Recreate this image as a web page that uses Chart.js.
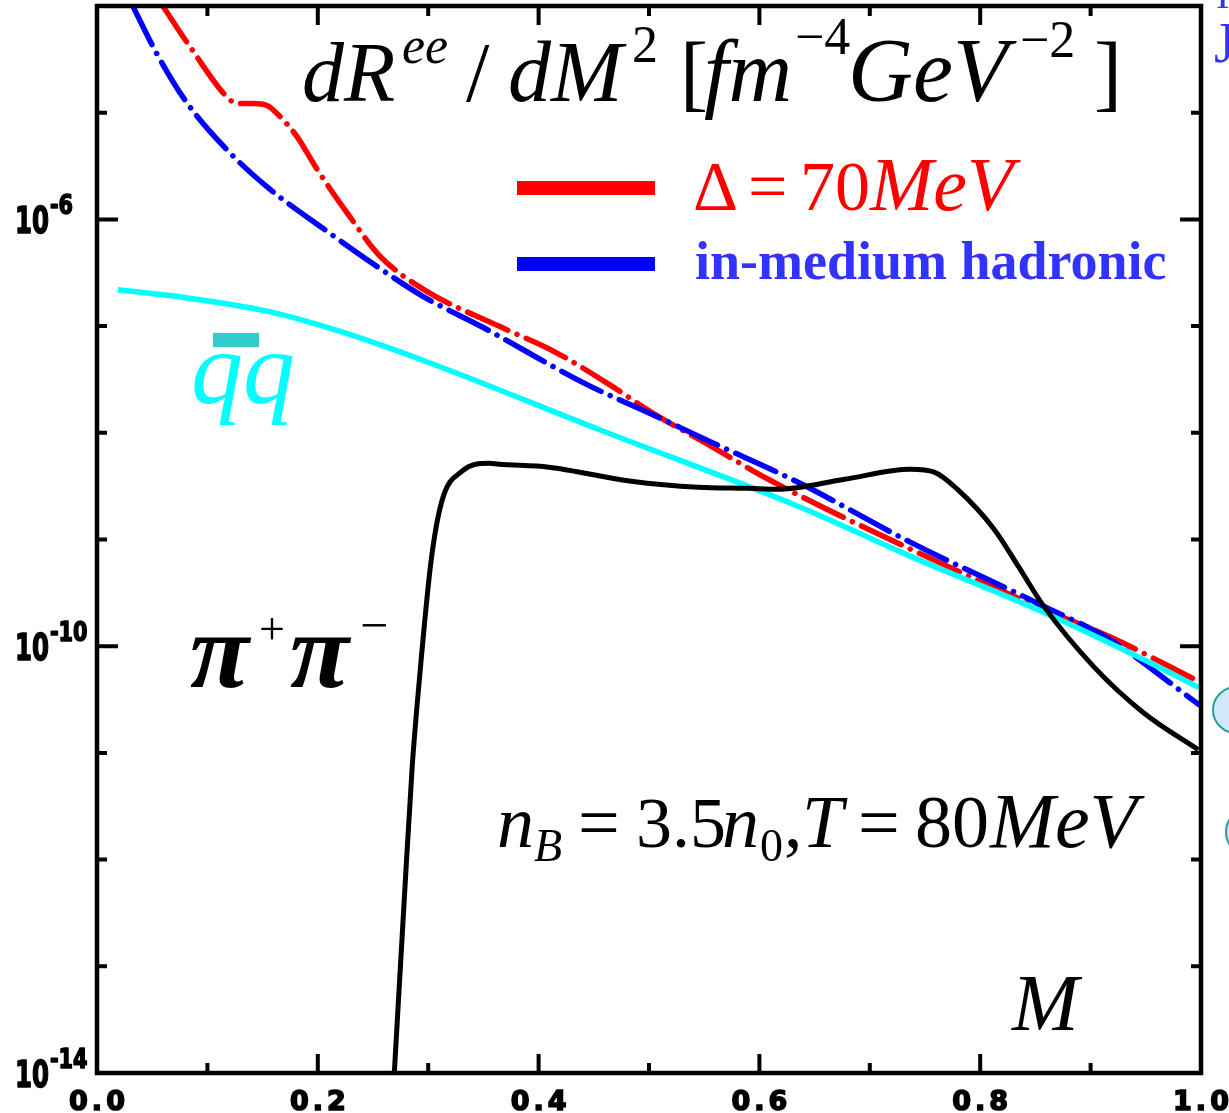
<!DOCTYPE html>
<html>
<head>
<meta charset="utf-8">
<title>Dilepton rate</title>
<script src="https://cdn.jsdelivr.net/npm/chart.js@4.4.1/dist/chart.umd.min.js"></script>
<style>
  html, body { margin: 0; padding: 0; background: #fff; }
  #wrap { width: 1229px; height: 1113px; }
</style>
</head>
<body>
<div id="wrap"><canvas id="rateChart" width="1229" height="1113"></canvas></div>
<script>
// invariant mass M (GeV) and dR/dM^2 values for each curve
const deltaM = [0.059, 0.084, 0.119, 0.127, 0.142, 0.154, 0.165, 0.181, 0.199, 0.229, 0.256, 0.298, 0.364, 0.415, 0.466, 0.502, 0.556, 0.608, 0.737, 0.858, 0.917, 0.998];
const deltaRate = [1.02e-4, 4.19e-5, 1.36e-5, 1.22e-5, 1.22e-5, 1.17e-5, 9.4e-6, 6.0e-6, 2.99e-6, 1.06e-6, 4.56e-7, 2.14e-7, 1.0e-7, 5.71e-8, 2.75e-8, 1.56e-8, 7.5e-9, 3.67e-9, 8.1e-10, 2.21e-10, 1.23e-10, 4.67e-11];

const hadronicM = [0.032, 0.054, 0.080, 0.115, 0.156, 0.205, 0.250, 0.296, 0.349, 0.443, 0.502, 0.556, 0.635, 0.737, 0.858, 0.917, 0.998];
const hadronicRate = [1.02e-4, 3.6e-5, 1.3e-5, 4.8e-6, 1.94e-6, 8.2e-7, 3.84e-7, 1.88e-7, 9.8e-8, 2.86e-8, 1.5e-8, 8.2e-9, 3.44e-9, 9.4e-10, 2.36e-10, 1.16e-10, 2.84e-11];

const qqM = [0.019, 0.075, 0.154, 0.213, 0.292, 0.454, 0.635, 0.737, 0.858, 0.948, 0.998];
const qqRate = [2.19e-7, 1.88e-7, 1.38e-7, 9.4e-8, 4.92e-8, 1.08e-8, 2.05e-9, 6.95e-10, 2.07e-10, 7.5e-11, 4.1e-11];

const pipiM = [0.2693, 0.2783, 0.2855, 0.2918, 0.3027, 0.3126, 0.3307, 0.3551, 0.3640, 0.4091, 0.4840, 0.5445, 0.5896, 0.6167, 0.6772, 0.7368, 0.7584, 0.7792, 0.8126, 0.8350, 0.8577, 0.9028, 0.9479, 0.9975];
const pipiRate = [1e-14, 4.2e-13, 7.4e-12, 4.6e-11, 6.4e-10, 2.33e-9, 4.37e-9, 5.19e-9, 5.08e-9, 4.76e-9, 3.52e-9, 3.09e-9, 3.02e-9, 2.96e-9, 3.67e-9, 4.56e-9, 4.28e-9, 2.96e-9, 1.25e-9, 5.5e-10, 2.36e-10, 6.44e-11, 2.38e-11, 1.07e-11];

// axis ticks
const xTickLabels = ['0.0', '0.2', '0.4', '0.6', '0.8', '1.0'];
const yLabelExps = [-6, -10, -14];

const SERIF = '"Liberation Serif", "Times New Roman", serif';
const SANS = '"DejaVu Sans", sans-serif';

function toPoints(xs, ys) {
  return xs.map((x, i) => ({ x: x, y: ys[i] }));
}

function drawRuns(ctx, y, runs) {
  let x = 0;
  runs.forEach(r => {
    ctx.font = r.font;
    ctx.fillStyle = r.color;
    if (r.x !== undefined) x = r.x;
    ctx.fillText(r.t, x, y + (r.dy || 0));
    x += ctx.measureText(r.t).width;
  });
}

// heavy condensed text for the tick labels
function drawScaled(ctx, text, x, y, font, sx) {
  ctx.save();
  ctx.translate(x, y);
  ctx.scale(sx, 1);
  ctx.font = font;
  ctx.lineWidth = 1.6;
  ctx.lineJoin = 'round';
  ctx.fillText(text, 0, 0);
  ctx.strokeText(text, 0, 0);
  const w = ctx.measureText(text).width * sx;
  ctx.restore();
  return w;
}

// frame, inward ticks, tick labels and all the annotations
const frameAndText = {
  id: 'frameAndText',
  afterDatasetsDraw(chart) {
    const ctx = chart.ctx;
    const a = chart.chartArea;
    const xs = chart.scales.x;
    const ys = chart.scales.y;
    ctx.save();

    ctx.strokeStyle = '#000';
    ctx.lineWidth = 4.5;
    ctx.strokeRect(a.left, a.top, a.right - a.left, a.bottom - a.top);

    // x ticks, bottom and top
    ctx.lineWidth = 4;
    for (let i = 1; i < 10; i++) {
      const px = xs.getPixelForValue(i / 10);
      const len = i % 2 === 0 ? 19 : 10;
      ctx.beginPath();
      ctx.moveTo(px, a.bottom); ctx.lineTo(px, a.bottom - len);
      ctx.moveTo(px, a.top); ctx.lineTo(px, a.top + len);
      ctx.stroke();
    }
    // y ticks, left and right
    for (let e = -13; e <= -5; e++) {
      const py = ys.getPixelForValue(Math.pow(10, e));
      const len = yLabelExps.includes(e) ? 21 : 10;
      ctx.beginPath();
      ctx.moveTo(a.left, py); ctx.lineTo(a.left + len, py);
      ctx.moveTo(a.right, py); ctx.lineTo(a.right - len, py);
      ctx.stroke();
    }

    // tick labels
    ctx.fillStyle = '#000';
    ctx.strokeStyle = '#000';
    ctx.textBaseline = 'alphabetic';
    yLabelExps.forEach(e => {
      const py = ys.getPixelForValue(Math.pow(10, e));
      const w = drawScaled(ctx, '10', 15, py + 14, `bold 37px ${SANS}`, 0.66);
      drawScaled(ctx, '-' + Math.abs(e), 15 + w + 1, py - 5, `bold 26px ${SANS}`, 0.8);
    });
    ctx.font = `bold 27px ${SANS}`;
    ctx.letterSpacing = '4px';
    ctx.lineWidth = 1.6;
    xTickLabels.forEach(t => {
      const px = xs.getPixelForValue(parseFloat(t));
      const w = ctx.measureText(t).width - 4;
      ctx.fillText(t, px - w / 2, 1110);
      ctx.strokeText(t, px - w / 2, 1110);
    });
    ctx.letterSpacing = '0px';

    // axis title
    const k = '#000';
    drawRuns(ctx, 101, [
      { t: 'dR', font: `italic 84px ${SERIF}`, color: k, x: 302 },
      { t: 'ee', font: `italic 52px ${SERIF}`, color: k, x: 402, dy: -38 },
      { t: '/', font: `84px ${SERIF}`, color: k, x: 466 },
      { t: 'dM', font: `italic 86px ${SERIF}`, color: k, x: 508 },
      { t: '2', font: `52px ${SERIF}`, color: k, x: 632, dy: -39 },
      { t: '[', font: `84px ${SERIF}`, color: k, x: 680 },
      { t: 'fm', font: `italic 88px ${SERIF}`, color: k, x: 704 },
      { t: '\u22124', font: `52px ${SERIF}`, color: k, x: 795, dy: -47 },
      { t: 'GeV', font: `italic 90px ${SERIF}`, color: k, x: 848 },
      { t: '\u22122', font: `52px ${SERIF}`, color: k, x: 1020, dy: -44 },
      { t: ']', font: `84px ${SERIF}`, color: k, x: 1094 }
    ]);

    // legend
    ctx.fillStyle = '#ff0000';
    ctx.fillRect(517, 181, 138, 14);
    ctx.fillStyle = '#0000ff';
    ctx.fillRect(517, 257, 138, 14);
    const r = '#ff0000';
    drawRuns(ctx, 210, [
      { t: '\u0394', font: `70px ${SERIF}`, color: r, x: 693 },
      { t: '=', font: `70px ${SERIF}`, color: r, x: 748 },
      { t: '70', font: `70px ${SERIF}`, color: r, x: 800 },
      { t: 'MeV', font: `italic 76px ${SERIF}`, color: r, x: 870 }
    ]);
    drawRuns(ctx, 279, [
      { t: 'in-medium hadronic', font: `bold 54px ${SERIF}`, color: '#3333ff', x: 695 }
    ]);

    // curve names
    ctx.fillStyle = '#33cccc';
    ctx.fillRect(213, 333, 46, 14);
    drawRuns(ctx, 403, [{ t: 'qq', font: `italic 104px ${SERIF}`, color: '#00ffff', x: 191 }]);
    drawRuns(ctx, 687, [
      { t: '\u03c0', font: `italic bold 108px ${SERIF}`, color: k, x: 190 },
      { t: '+', font: `46px ${SERIF}`, color: k, x: 259, dy: -43 },
      { t: '\u03c0', font: `italic bold 108px ${SERIF}`, color: k, x: 290 },
      { t: '\u2212', font: `50px ${SERIF}`, color: k, x: 360, dy: -45 }
    ]);

    // medium conditions
    drawRuns(ctx, 847, [
      { t: 'n', font: `italic 74px ${SERIF}`, color: k, x: 497 },
      { t: 'B', font: `italic 46px ${SERIF}`, color: k, x: 534, dy: 14 },
      { t: '=', font: `74px ${SERIF}`, color: k, x: 578 },
      { t: '3.5', font: `72px ${SERIF}`, color: k, x: 636 },
      { t: 'n', font: `italic 74px ${SERIF}`, color: k, x: 722 },
      { t: '0', font: `46px ${SERIF}`, color: k, x: 760, dy: 14 },
      { t: ',', font: `74px ${SERIF}`, color: k, x: 784 },
      { t: 'T', font: `italic 74px ${SERIF}`, color: k, x: 802 },
      { t: '=', font: `74px ${SERIF}`, color: k, x: 858 },
      { t: '80', font: `74px ${SERIF}`, color: k, x: 915 },
      { t: 'MeV', font: `italic 78px ${SERIF}`, color: k, x: 990 }
    ]);

    // x axis name
    drawRuns(ctx, 1030, [{ t: 'M', font: `italic 80px ${SERIF}`, color: k, x: 1012 }]);

    // right margin pieces
    drawRuns(ctx, 8, [{ t: 'I', font: `40px ${SERIF}`, color: '#3333ff', x: 1216 }]);
    drawRuns(ctx, 62, [{ t: 'J', font: `56px ${SERIF}`, color: '#3333ff', x: 1214 }]);
    ctx.lineWidth = 2;
    ctx.strokeStyle = '#2a9d9d';
    ctx.fillStyle = '#cfe9fb';
    [[1236, 710, 23], [1250, 832, 24]].forEach(c => {
      ctx.beginPath();
      ctx.arc(c[0], c[1], c[2], 0, Math.PI * 2);
      ctx.fill();
      ctx.stroke();
    });

    ctx.restore();
  }
};

const dashDot = [44, 10, 0.1, 10];

new Chart(document.getElementById('rateChart'), {
  type: 'line',
  data: {
    datasets: [
      {
        label: 'pi+pi-',
        data: toPoints(pipiM, pipiRate),
        borderColor: '#000000',
        borderWidth: 5,
        order: 1
      },
      {
        label: 'qbar q',
        data: toPoints(qqM, qqRate),
        borderColor: '#00ffff',
        borderWidth: 5.5,
        order: 2
      },
      {
        label: 'in-medium hadronic',
        data: toPoints(hadronicM, hadronicRate),
        borderColor: '#0000ff',
        borderWidth: 5.5,
        borderDash: dashDot,
        borderCapStyle: 'round',
        order: 3
      },
      {
        label: 'Delta = 70 MeV',
        data: toPoints(deltaM, deltaRate),
        borderColor: '#ff0000',
        borderWidth: 5.5,
        borderDash: dashDot,
        borderCapStyle: 'round',
        order: 4
      }
    ]
  },
  options: {
    responsive: false,
    animation: false,
    devicePixelRatio: 1,
    layout: { padding: { left: 97, right: 28, top: 6, bottom: 40 } },
    elements: {
      point: { radius: 0, hoverRadius: 0 },
      line: { cubicInterpolationMode: 'monotone', fill: false, borderWidth: 5 }
    },
    scales: {
      x: { type: 'linear', min: 0, max: 1, display: false },
      y: { type: 'logarithmic', min: 1e-14, max: 1e-4, display: false }
    },
    plugins: {
      legend: { display: false },
      tooltip: { enabled: false }
    }
  },
  plugins: [frameAndText]
});
</script>
</body>
</html>
